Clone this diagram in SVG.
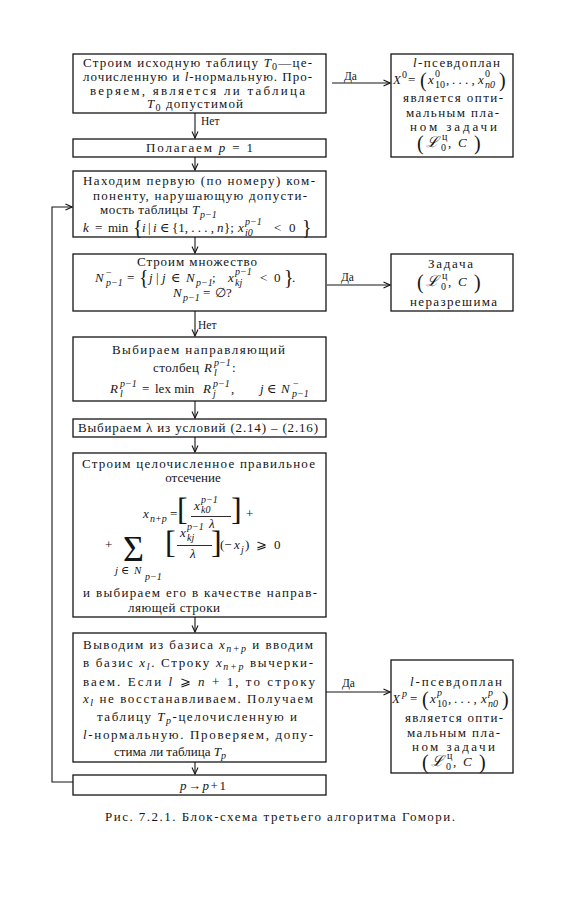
<svg xmlns="http://www.w3.org/2000/svg" width="568" height="900" viewBox="0 0 568 900">
<style>
.t{font-family:"Liberation Serif","DejaVu Serif",serif;font-size:13px;fill:#151515}
.i{font-style:italic}
.s{font-size:10px}
.b{font-size:32px}
.p{font-size:20px}
.lb{font-size:11.5px}
.box{fill:#fff;stroke:#151515;stroke-width:1.3}
.c{fill:none;stroke:#151515;stroke-width:1.1}
.fr{stroke:#151515;stroke-width:0.9}
</style>
<defs>
<marker id="ah" viewBox="0 0 8 8" refX="7.5" refY="4" markerWidth="8" markerHeight="8" orient="auto" markerUnits="userSpaceOnUse">
<path d="M1,1 L7.5,4 L1,7" fill="none" stroke="#151515" stroke-width="1.1"/>
</marker>
</defs>
<rect width="568" height="900" fill="#fff"/>

<g id="connectors">
<path class="c" d="M195,113 V138" marker-end="url(#ah)"/>
<path class="c" d="M195,157 V170" marker-end="url(#ah)"/>
<path class="c" d="M195,237 V253" marker-end="url(#ah)"/>
<path class="c" d="M195,311 V336" marker-end="url(#ah)"/>
<path class="c" d="M195,401 V418" marker-end="url(#ah)"/>
<path class="c" d="M195,437 V452" marker-end="url(#ah)"/>
<path class="c" d="M195,617 V632" marker-end="url(#ah)"/>
<path class="c" d="M195,762 V774" marker-end="url(#ah)"/>
<path class="c" d="M332,83 H390" marker-end="url(#ah)"/>
<path class="c" d="M327,285 H390" marker-end="url(#ah)"/>
<path class="c" d="M326,692 H390" marker-end="url(#ah)"/>
<path class="c" d="M73,782 H52 V207 H72" marker-end="url(#ah)"/>
<text class="t lb" x="201" y="125">Нет</text>
<text class="t lb" x="198" y="329">Нет</text>
<text class="t lb" x="344" y="80">Да</text>
<text class="t lb" x="341" y="281">Да</text>
<text class="t lb" x="342" y="687">Да</text>
</g>

<g id="n1">
<rect class="box" x="73" y="54" width="253" height="59"/>
<text class="t" x="83" y="67" textLength="229" lengthAdjust="spacing">Строим исходную таблицу <tspan class="i">T</tspan><tspan class="s" dy="3">0</tspan><tspan dy="-3">—це-</tspan></text>
<text class="t" x="83" y="81" textLength="229" lengthAdjust="spacing">лочисленную и <tspan class="i">l</tspan>-нормальную. Про-</text>
<text class="t" x="90" y="95" textLength="215" lengthAdjust="spacing">веряем, является ли таблица</text>
<text class="t" x="147" y="108" textLength="96" lengthAdjust="spacing"><tspan class="i">T</tspan><tspan class="s" dy="3">0</tspan><tspan dy="-3">  допустимой</tspan></text>
</g>

<g id="n2">
<rect class="box" x="73" y="139" width="253" height="18"/>
<text class="t" x="146" y="152" textLength="107" lengthAdjust="spacing">Полагаем  <tspan class="i">p</tspan> = 1</text>
</g>

<g id="n3">
<rect class="box" x="73" y="171" width="253" height="66"/>
<text class="t" x="83" y="185" textLength="232" lengthAdjust="spacing">Находим первую (по номеру) ком-</text>
<text class="t" x="93" y="200" textLength="214" lengthAdjust="spacing">поненту, нарушающую допусти-</text>
<text class="t" x="100" y="214"><tspan textLength="88" lengthAdjust="spacing">мость таблицы</tspan><tspan class="i" x="192">T</tspan><tspan class="s i" x="200" y="218">p−1</tspan></text>
<text class="t"><tspan class="i" x="83" y="232">k</tspan><tspan x="95" y="232">=</tspan><tspan x="108" y="232">min</tspan><tspan class="p" x="133" y="234">{</tspan><tspan class="i" x="142" y="232">i</tspan><tspan x="148" y="232">|</tspan><tspan class="i" x="153" y="232">i</tspan><tspan x="160" y="232">∈</tspan><tspan x="172" y="232">{1, . . . ,</tspan><tspan class="i" x="217" y="232">n</tspan><tspan x="224" y="232">};</tspan><tspan class="i" x="238" y="232">x</tspan><tspan class="s i" x="245" y="225">p−1</tspan><tspan class="s i" x="245" y="236">i0</tspan><tspan x="274" y="232">&lt;</tspan><tspan x="289" y="232">0</tspan><tspan class="p" x="302" y="234">}</tspan></text>
</g>

<g id="n4">
<rect class="box" x="73" y="254" width="253" height="57"/>
<text class="t" x="137" y="266" textLength="120" lengthAdjust="spacing">Строим множество</text>
<text class="t"><tspan class="i" x="95" y="282">N</tspan><tspan class="s" x="106" y="276">−</tspan><tspan class="s i" x="106" y="286">p−1</tspan><tspan x="127" y="282">=</tspan><tspan class="p" x="139" y="284">{</tspan><tspan class="i" x="149" y="282">j</tspan><tspan x="156" y="282">|</tspan><tspan class="i" x="162" y="282">j</tspan><tspan x="171" y="282">∈</tspan><tspan class="i" x="186" y="282">N</tspan><tspan class="s i" x="196" y="286">p−1</tspan><tspan x="212" y="282">;</tspan><tspan class="i" x="228" y="282">x</tspan><tspan class="s i" x="235" y="275">p−1</tspan><tspan class="s i" x="235" y="286">kj</tspan><tspan x="260" y="282">&lt;</tspan><tspan x="274" y="282">0</tspan><tspan class="p" x="284" y="284">}</tspan><tspan x="292" y="282">.</tspan></text>
<text class="t"><tspan class="i" x="173" y="297">N</tspan><tspan class="s i" x="183" y="301">p−1</tspan><tspan x="203" y="297">=</tspan><tspan x="215" y="297">∅?</tspan></text>
</g>

<g id="n5">
<rect class="box" x="73" y="337" width="253" height="64"/>
<text class="t" x="112" y="354" textLength="173" lengthAdjust="spacing">Выбираем направляющий</text>
<text class="t"><tspan x="153" y="372" textLength="46" lengthAdjust="spacing">столбец</tspan><tspan class="i" x="204" y="372">R</tspan><tspan class="s i" x="214" y="366">p−1</tspan><tspan class="s i" x="214" y="376">l</tspan><tspan x="232" y="372">:</tspan></text>
<text class="t"><tspan class="i" x="110" y="393">R</tspan><tspan class="s i" x="120" y="387">p−1</tspan><tspan class="s i" x="120" y="397">l</tspan><tspan x="142" y="393">=</tspan><tspan x="155" y="393">lex min</tspan><tspan class="i" x="203" y="393">R</tspan><tspan class="s i" x="213" y="387">p−1</tspan><tspan class="s i" x="213" y="397">j</tspan><tspan x="231" y="393">,</tspan><tspan class="i" x="260" y="393">j</tspan><tspan x="267" y="393">∈</tspan><tspan class="i" x="281" y="393">N</tspan><tspan class="s" x="293" y="387">−</tspan><tspan class="s i" x="292" y="397">p−1</tspan></text>
</g>

<g id="n6">
<rect class="box" x="73" y="419" width="253" height="18"/>
<text class="t" x="78" y="432" textLength="240" lengthAdjust="spacing">Выбираем λ из условий (2.14) – (2.16)</text>
</g>

<g id="n7">
<rect class="box" x="73" y="453" width="253" height="164"/>
<text class="t" x="82" y="468" textLength="233" lengthAdjust="spacing">Строим целочисленное правильное</text>
<text class="t" x="193" y="482" text-anchor="middle">отсечение</text>
<text class="t"><tspan class="i" x="143" y="518">x</tspan><tspan class="s i" x="150" y="522">n+p</tspan><tspan x="170" y="518">=</tspan><tspan class="b" x="177" y="520">[</tspan><tspan class="i" x="194" y="510">x</tspan><tspan class="s i" x="201" y="503">p−1</tspan><tspan class="s i" x="201" y="513">k0</tspan><tspan class="i" x="209" y="528">λ</tspan><tspan class="b" x="231" y="520">]</tspan><tspan x="246" y="518">+</tspan></text>
<line class="fr" x1="191" y1="516.5" x2="231" y2="516.5"/>
<text class="t" x="105" y="549">+</text>
<text class="t" x="123" y="561" style="font-size:36px">Σ</text>
<text class="t"><tspan class="b" x="165" y="553">[</tspan><tspan class="i" x="180" y="537">x</tspan><tspan class="s i" x="187" y="530">p−1</tspan><tspan class="s i" x="187" y="541">kj</tspan><tspan class="i" x="190" y="558">λ</tspan><tspan class="b" x="211" y="553">]</tspan><tspan x="220" y="549">(−</tspan><tspan class="i" x="234" y="549">x</tspan><tspan class="s i" x="241" y="553">j</tspan><tspan x="245" y="549">)</tspan><tspan x="256" y="549">⩾</tspan><tspan x="274" y="549">0</tspan></text>
<line class="fr" x1="177" y1="545.5" x2="212" y2="545.5"/>
<text class="t" style="font-size:11px"><tspan class="i" x="115" y="574">j</tspan><tspan x="121" y="574">∈</tspan><tspan class="i" x="134" y="574">N</tspan><tspan class="s i" x="145" y="580">p−1</tspan></text>
<text class="t" x="83" y="597" textLength="234" lengthAdjust="spacing">и выбираем  его в качестве направ-</text>
<text class="t" x="128" y="612" textLength="92" lengthAdjust="spacing">ляющей  строки</text>
</g>

<g id="n8">
<rect class="box" x="73" y="633" width="253" height="129"/>
<text class="t" x="83" y="649" textLength="230" lengthAdjust="spacing">Выводим из базиса <tspan class="i">x</tspan><tspan class="s i" dy="3">n+p</tspan><tspan dy="-3"> и вводим</tspan></text>
<text class="t" x="83" y="667" textLength="230" lengthAdjust="spacing">в базис <tspan class="i">x</tspan><tspan class="s i" dy="3">l</tspan><tspan dy="-3">. Строку </tspan><tspan class="i">x</tspan><tspan class="s i" dy="3">n+p</tspan><tspan dy="-3"> вычерки-</tspan></text>
<text class="t" x="83" y="686" textLength="232" lengthAdjust="spacing">ваем. Если <tspan class="i">l</tspan> ⩾ <tspan class="i">n</tspan> + 1, то строку</text>
<text class="t" x="83" y="703" textLength="230" lengthAdjust="spacing"><tspan class="i">x</tspan><tspan class="s i" dy="3">l</tspan><tspan dy="-3"> не восстанавливаем. Получаем</tspan></text>
<text class="t" x="97" y="721" textLength="200" lengthAdjust="spacing">таблицу <tspan class="i">T</tspan><tspan class="s i" dy="3">p</tspan><tspan dy="-3">-целочисленную и</tspan></text>
<text class="t" x="83" y="739" textLength="230" lengthAdjust="spacing"><tspan class="i">l</tspan>-нормальную. Проверяем, допу-</text>
<text class="t" x="170" y="756" text-anchor="middle">стима ли таблица <tspan class="i">T</tspan><tspan class="s i" dy="3">p</tspan></text>
</g>

<g id="n9">
<rect class="box" x="73" y="775" width="253" height="20"/>
<text class="t" x="180" y="790" textLength="46" lengthAdjust="spacing"><tspan class="i">p</tspan> → <tspan class="i">p</tspan> + 1</text>
</g>

<g id="r1">
<rect class="box" x="391" y="54" width="122" height="103"/>
<text class="t" x="413" y="67" textLength="87" lengthAdjust="spacing"><tspan class="i">l</tspan>-псевдоплан</text>
<text class="t"><tspan class="i" x="393" y="84">X</tspan><tspan class="s" x="402" y="78">0</tspan><tspan x="408" y="84">=</tspan><tspan class="p" x="420" y="87">(</tspan><tspan class="i" x="428" y="84">x</tspan><tspan class="s" x="435" y="77">0</tspan><tspan class="s" x="435" y="88">10</tspan><tspan x="446" y="84">,</tspan><tspan x="452" y="84">. . . ,</tspan><tspan class="i" x="478" y="84">x</tspan><tspan class="s" x="485" y="77">0</tspan><tspan class="s i" x="485" y="88">n0</tspan><tspan class="p" x="499" y="87">)</tspan></text>
<text class="t" x="403" y="102" textLength="100" lengthAdjust="spacing">является  опти-</text>
<text class="t" x="406" y="117" textLength="93" lengthAdjust="spacing">мальным  пла-</text>
<text class="t" x="410" y="131" textLength="87" lengthAdjust="spacing">ном  задачи</text>
<text class="t"><tspan class="p" x="417" y="150">(</tspan><tspan class="i" x="426" y="147" font-size="15">ℒ</tspan><tspan class="s" x="442" y="140">ц</tspan><tspan class="s" x="441" y="151">0</tspan><tspan x="448" y="147">,</tspan><tspan class="i" x="458" y="147">C</tspan><tspan class="p" x="474" y="150">)</tspan></text>
</g>

<g id="r2">
<rect class="box" x="391" y="254" width="122" height="57"/>
<text class="t" x="428" y="268" textLength="45" lengthAdjust="spacing">Задача</text>
<text class="t"><tspan class="p" x="417" y="289">(</tspan><tspan class="i" x="426" y="286" font-size="15">ℒ</tspan><tspan class="s" x="442" y="279">ц</tspan><tspan class="s" x="441" y="290">0</tspan><tspan x="448" y="286">,</tspan><tspan class="i" x="458" y="286">C</tspan><tspan class="p" x="474" y="289">)</tspan></text>
<text class="t" x="410" y="306" textLength="87" lengthAdjust="spacing">неразрешима</text>
</g>

<g id="r3">
<rect class="box" x="391" y="660" width="122" height="113"/>
<text class="t" x="410" y="686" textLength="92" lengthAdjust="spacing"><tspan class="i">l</tspan>-псевдоплан</text>
<text class="t"><tspan class="i" x="392" y="703">X</tspan><tspan class="s i" x="402" y="697">p</tspan><tspan x="410" y="703">=</tspan><tspan class="p" x="422" y="706">(</tspan><tspan class="i" x="430" y="703">x</tspan><tspan class="s i" x="437" y="696">p</tspan><tspan class="s" x="437" y="707">10</tspan><tspan x="448" y="703">,</tspan><tspan x="454" y="703">. . . ,</tspan><tspan class="i" x="481" y="703">x</tspan><tspan class="s i" x="488" y="696">p</tspan><tspan class="s i" x="488" y="707">n0</tspan><tspan class="p" x="502" y="706">)</tspan></text>
<text class="t" x="405" y="722" textLength="98" lengthAdjust="spacing">является  опти-</text>
<text class="t" x="407" y="737" textLength="93" lengthAdjust="spacing">мальным  пла-</text>
<text class="t" x="412" y="751" textLength="83" lengthAdjust="spacing">ном  задачи</text>
<text class="t"><tspan class="p" x="422" y="769">(</tspan><tspan class="i" x="431" y="766" font-size="15">ℒ</tspan><tspan class="s" x="447" y="759">ц</tspan><tspan class="s" x="446" y="770">0</tspan><tspan x="453" y="766">,</tspan><tspan class="i" x="463" y="766">C</tspan><tspan class="p" x="479" y="769">)</tspan></text>
</g>

<g id="caption">
<text class="t" x="105" y="821" textLength="350" lengthAdjust="spacing">Рис. 7.2.1. Блок-схема третьего алгоритма Гомори.</text>
</g>
</svg>
